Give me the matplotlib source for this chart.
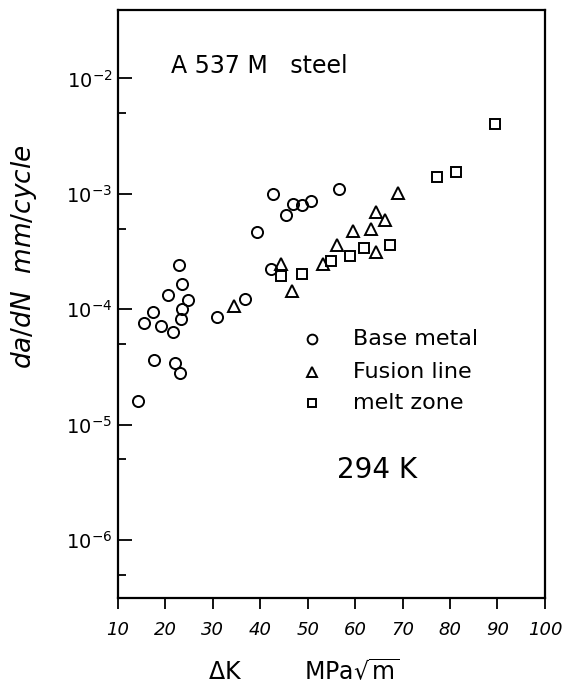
import matplotlib
matplotlib.use("Agg")
import matplotlib.pyplot as plt
from matplotlib.ticker import FixedLocator, NullFormatter

# base metal (circles)
base_dk = [42.6, 45.5, 46.9, 48.7, 50.6, 56.7, 39.3, 42.3, 22.9, 23.4, 20.6, 24.8,
           23.4, 23.3, 17.3, 15.5, 19.0, 21.6, 17.7, 22.0, 23.1, 14.3, 30.9, 36.7]
base_rate = [1.0e-3, 6.5e-4, 8.1e-4, 8.0e-4, 8.7e-4, 1.1e-3, 4.7e-4, 2.25e-4, 2.4e-4, 1.66e-4,
             1.34e-4, 1.2e-4, 1.0e-4, 8.3e-5, 9.5e-5, 7.6e-5, 7.1e-5, 6.4e-5, 3.6e-5,
             3.4e-5, 2.8e-5, 1.6e-5, 8.5e-5, 1.23e-4]

# fusion line (triangles)
fusion_dk = [69.0, 64.5, 66.2, 63.3, 59.5, 56.2, 64.5, 53.2, 44.3, 46.6, 34.4]
fusion_rate = [1.02e-3, 7.0e-4, 5.9e-4, 5.0e-4, 4.8e-4, 3.6e-4, 3.1e-4, 2.45e-4,
               2.45e-4, 1.45e-4, 1.07e-4]

# melt zone (squares)
melt_dk = [89.4, 81.3, 77.3, 67.3, 61.8, 59.0, 55.0, 48.7, 44.3]
melt_rate = [4.0e-3, 1.56e-3, 1.4e-3, 3.6e-4, 3.4e-4, 2.9e-4, 2.6e-4, 2.0e-4, 1.94e-4]

x_ticks = [10, 20, 30, 40, 50, 60, 70, 80, 90, 100]
y_major = [1e-6, 1e-5, 1e-4, 1e-3, 1e-2]
y_minor = [5e-7, 5e-6, 5e-5, 5e-4, 5e-3]
y_labels = [r'$10^{-6}$', r'$10^{-5}$', r'$10^{-4}$', r'$10^{-3}$', r'$10^{-2}$']

plt.rcParams['mathtext.default'] = 'it'

fig = plt.figure(figsize=(5.67, 6.87), dpi=100)
ax = fig.add_axes([0.208, 0.130, 0.753, 0.855])

mk = dict(linestyle='none', markerfacecolor='none', markeredgecolor='black',
          markeredgewidth=1.4)
ax.plot(base_dk, base_rate, marker='o', markersize=8, **mk)
ax.plot(fusion_dk, fusion_rate, marker='^', markersize=8, **mk)
ax.plot(melt_dk, melt_rate, marker='s', markersize=7, **mk)

ax.set_yscale('log')
ax.set_xlim(10, 100)
ax.set_ylim(10**-6.5, 10**-1.41)

ax.xaxis.set_major_locator(FixedLocator(x_ticks))
ax.set_xticklabels([str(t) for t in x_ticks], fontsize=13, fontstyle='italic')
ax.yaxis.set_major_locator(FixedLocator(y_major))
ax.yaxis.set_minor_locator(FixedLocator(y_minor))
ax.yaxis.set_minor_formatter(NullFormatter())
ax.set_yticklabels(y_labels, fontsize=14)
ax.tick_params(axis='x', direction='out', length=8, width=1.3, pad=9)
ax.tick_params(axis='y', which='major', direction='in', length=10, width=1.3, pad=4)
ax.tick_params(axis='y', which='minor', direction='in', length=6, width=1.3)
for s in ax.spines.values():
    s.set_linewidth(1.6)

ax.text(0.125, 0.906, 'A 537 M   steel', transform=ax.transAxes, fontsize=17, va='center')

# legend drawn by hand like the original
leg_x = 0.454
for yy, m, ms, lab in [(0.440, 'o', 7, 'Base metal'), (0.384, '^', 7, 'Fusion line'),
                       (0.332, 's', 6, 'melt zone')]:
    ax.plot([leg_x], [yy], marker=m, markersize=ms, transform=ax.transAxes, **mk)
    ax.text(0.55, yy, lab, transform=ax.transAxes, fontsize=16, va='center')

ax.text(0.513, 0.218, '294 K', transform=ax.transAxes, fontsize=20, va='center')

fig.text(24 / 567, 1 - 257 / 687, r'$da/dN\ \ mm/cycle$', fontsize=19, rotation=90,
         ha='center', va='center')
fig.text(225 / 567, 1 - 672 / 687, r'$\Delta$K', fontsize=17, ha='center', va='center')
fig.text(352 / 567, 1 - 672 / 687, r'MPa$\mathrm{\sqrt{m}}$', fontsize=17, ha='center',
         va='center')

fig.savefig('out.png', dpi=100)
